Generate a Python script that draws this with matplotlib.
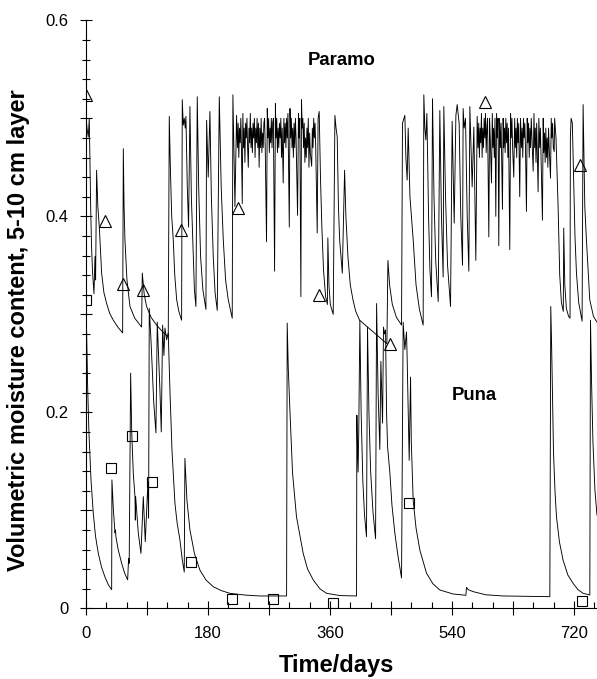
import matplotlib
matplotlib.use("Agg")
import matplotlib.pyplot as plt
from matplotlib.ticker import MultipleLocator, FuncFormatter

plt.rcParams['font.family'] = ['Liberation Sans', 'DejaVu Sans']

# simulated 5-10 cm moisture, Paramo site (day, value)
para_days = [0, 1.5, 3.4, 4.9, 5.8, 6.9, 8.2, 9.8, 11.8, 13.3, 14.2, 15.7, 17.5, 19.7, 23.1, 26.5,
             30.5, 35, 40.3, 47, 54.1, 55.1, 56.2, 57.5, 60.5, 64.9, 72, 82.1, 83.1, 86, 89.5, 96,
             104.2, 112, 121.4, 122.9, 124.5, 126.5, 128.8, 131, 133.8, 137, 141.1, 142.1, 143.5,
             145, 146.5, 147.5, 149.5, 151.4, 153.4, 155.5, 158.3, 160, 162.2, 164.2, 166.3, 169.1,
             172.5, 177, 178, 180.4, 182.9, 185, 187.8, 190.5, 193.7, 196.7, 199.5, 202.6, 206,
             209.9, 215.8, 216.8, 219.8,
             222.2, 223.5, 224.5, 225.5, 226.5, 227.5, 228.5, 229.5, 230.6, 231.5, 232.5, 233.5,
             234.5, 235.5, 236.5, 237.5, 238.5, 239.5, 240.5, 241.5, 242.5, 243.5, 244.5, 245.5,
             246.5, 247.5, 248.5, 249.5, 250.5, 251.5, 252.5, 253.5, 254.5, 255.5, 256.5, 257.5,
             258.5, 259.5, 260.5, 261.5, 262.5, 263.5, 264.5, 266.4, 267.5, 268.5, 269.5, 270.5,
             271.5, 272.5, 273.5, 274.5, 275.5, 276.5, 278.3, 279.5, 280.5, 281.5, 282.5, 283.5,
             284.5, 285.5, 286.5, 287.5, 288.5, 289.5, 291, 292, 293, 294, 295, 296, 297, 298, 300,
             301, 302, 303, 304, 305, 306, 307, 308, 309, 310, 312.2, 313.5, 314.5, 315.5, 317.1,
             318, 319, 320, 321, 322, 323, 324, 325, 326, 327, 328, 329, 330, 331, 333, 334, 335,
             336, 337, 338, 339, 341.2, 342.5, 344.1,
             346, 348, 350.5, 353.6, 356.2, 356.9, 358.5, 360.5, 364.8, 367.3, 369, 370.7, 372.5,
             374.3, 378.2, 381.6, 383.5, 386.5, 390, 393.9, 398, 403.7, 444, 445.5, 448, 452, 458,
             465.6, 467, 470.5, 472, 473.9, 475.4, 478, 482.8, 487, 492, 497.5, 498.5, 500, 501.5,
             503, 505.5, 507.5, 509.8, 511.3, 513.5, 516, 519.7, 522.1, 524.5, 527, 528, 530.5,
             533.5, 537.9, 540.3, 543.3, 545.8, 547.7, 550.6, 553, 555.6, 556.5, 558, 560, 562.5,
             564.9, 566.4, 569.8, 572.3, 575.2,
             577.2, 578.5, 579.5, 580.5, 581.5, 582.5, 583.5, 584.5, 585.5, 586.5, 587.5, 588.5,
             589.5, 590.5, 591.5, 592.5, 594.4, 595.5, 596.5, 598.3, 599.5, 600.5, 601.5, 602.5,
             603.5, 604.7, 605.8, 607, 608, 609.1, 610.2, 611.5, 612.5, 614.5, 615.5, 616.5, 617.5,
             618.5, 619.5, 620.5, 621.5, 622.5, 623.5, 625.3, 626.5, 627.5, 628.5, 629.5, 631.2,
             632.5, 633.5, 634.5, 635.5, 636.5, 637.5, 638.5, 640, 641.2, 642.5, 643.5, 644.5,
             645.5, 646.5, 647.5, 648.5, 649.9, 651, 652, 653, 654, 655, 656, 657, 658, 659.8, 661,
             662, 663, 664, 665, 667.1, 668.2, 669.5, 670.5, 671.5, 673.5, 674.6, 675.5, 676.5,
             677.5, 678.5, 679.5, 680.5, 681.5, 682.5, 683.5, 685.4, 686.5, 687.5, 688.5, 689.5,
             690.8, 691.5,
             693.5, 696.6, 699, 701.5, 704.3, 704.9, 706.5, 708.8, 712, 714.2, 714.7, 715.8, 717.6,
             719.5, 721.5, 723.7, 727, 732, 733.5, 736, 738.4, 743.3, 748.7, 754]
para_vals = [0.503, 0.49, 0.481, 0.50, 0.46, 0.41, 0.37, 0.342, 0.321, 0.359, 0.335, 0.447, 0.41,
             0.389, 0.342, 0.322, 0.311, 0.301, 0.294, 0.287, 0.281, 0.469, 0.41, 0.376, 0.335,
             0.308, 0.296, 0.287, 0.342, 0.32, 0.308, 0.297, 0.289, 0.283, 0.277, 0.502, 0.45, 0.40,
             0.376, 0.34, 0.315, 0.303, 0.294, 0.519, 0.493, 0.50, 0.49, 0.502, 0.43, 0.389, 0.512,
             0.42, 0.359, 0.325, 0.308, 0.522, 0.43, 0.359, 0.325, 0.305, 0.498, 0.44, 0.507, 0.42,
             0.359, 0.322, 0.304, 0.522, 0.43, 0.376, 0.335, 0.315, 0.296, 0.524, 0.41,
             0.503, 0.47, 0.495, 0.46, 0.49, 0.475, 0.50, 0.465, 0.413, 0.505, 0.47, 0.49, 0.455,
             0.495, 0.48, 0.50, 0.47, 0.45, 0.49, 0.475, 0.505, 0.47, 0.49, 0.465, 0.495, 0.48,
             0.50, 0.46, 0.49, 0.475, 0.50, 0.47, 0.495, 0.45, 0.49, 0.47, 0.50, 0.465, 0.485,
             0.47, 0.495, 0.50, 0.47, 0.374, 0.51, 0.48, 0.50, 0.465, 0.49, 0.475, 0.50, 0.47,
             0.495, 0.50, 0.344, 0.515, 0.48, 0.50, 0.465, 0.49, 0.47, 0.495, 0.48, 0.50, 0.46,
             0.49, 0.434, 0.50, 0.475, 0.495, 0.47, 0.50, 0.48, 0.505, 0.389, 0.51, 0.48, 0.50,
             0.47, 0.49, 0.46, 0.495, 0.47, 0.50, 0.48, 0.401, 0.505, 0.48, 0.50, 0.318, 0.519,
             0.49, 0.50, 0.47, 0.495, 0.455, 0.48, 0.46, 0.49, 0.47, 0.50, 0.45, 0.485, 0.465,
             0.451, 0.49, 0.47, 0.50, 0.48, 0.495, 0.47, 0.383, 0.50, 0.507,
             0.44, 0.39, 0.345, 0.318, 0.31, 0.378, 0.33, 0.31, 0.30, 0.503, 0.49, 0.481, 0.41,
             0.376, 0.342, 0.447, 0.40, 0.359, 0.33, 0.315, 0.303, 0.294, 0.27, 0.355, 0.33, 0.31,
             0.297, 0.289, 0.495, 0.503, 0.46, 0.437, 0.49, 0.42, 0.376, 0.33, 0.305, 0.289, 0.524,
             0.49, 0.478, 0.505, 0.40, 0.345, 0.318, 0.52, 0.42, 0.355, 0.313, 0.508, 0.40, 0.338,
             0.512, 0.42, 0.35, 0.308, 0.497, 0.393, 0.503, 0.514, 0.495, 0.40, 0.35, 0.51, 0.49,
             0.50, 0.40, 0.344, 0.512, 0.43, 0.491, 0.355,
             0.502, 0.47, 0.495, 0.46, 0.49, 0.475, 0.505, 0.46, 0.49, 0.47, 0.50, 0.48, 0.505,
             0.465, 0.49, 0.50, 0.379, 0.50, 0.48, 0.434, 0.505, 0.47, 0.49, 0.46, 0.50, 0.40,
             0.505, 0.48, 0.50, 0.37, 0.50, 0.47, 0.495, 0.407, 0.50, 0.47, 0.49, 0.465, 0.50,
             0.475, 0.495, 0.46, 0.49, 0.366, 0.505, 0.48, 0.50, 0.47, 0.44, 0.50, 0.47, 0.49,
             0.46, 0.50, 0.475, 0.495, 0.42, 0.50, 0.47, 0.49, 0.46, 0.50, 0.48, 0.495, 0.47,
             0.405, 0.50, 0.475, 0.495, 0.46, 0.49, 0.47, 0.50, 0.48, 0.446, 0.505, 0.47, 0.49,
             0.455, 0.495, 0.425, 0.50, 0.47, 0.49, 0.46, 0.396, 0.50, 0.465, 0.485, 0.455, 0.49,
             0.46, 0.48, 0.45, 0.49, 0.47, 0.439, 0.50, 0.48, 0.495, 0.47, 0.466, 0.50,
             0.48, 0.41, 0.34, 0.312, 0.303, 0.388, 0.33, 0.306, 0.298, 0.296, 0.48, 0.50, 0.495,
             0.44, 0.38, 0.342, 0.312, 0.293, 0.514, 0.41, 0.376, 0.315, 0.298, 0.292]

# simulated 5-10 cm moisture, Puna site (day, value)
puna_days = [0, 1.0, 2.5, 4.4, 7.5, 10.8, 14, 18.2, 23, 28, 33, 37.9, 38.3, 40.5, 42.8, 43.5, 44.2,
             47.5, 52.6, 57, 61.5, 62.9, 63.8, 65.9, 67.5, 69.8, 72.3, 72.8, 73.3, 77.2, 81.1, 84.6,
             87.5, 91.4, 92.4, 93.4, 95.9, 100, 103.2, 105.2, 109.1, 111.1, 113.1, 115, 116.5, 119,
             121.4, 124, 127, 131.3, 134.5, 138.6, 142, 145, 146, 149, 153.4, 160, 168.1, 177,
             187.8, 200, 212.4, 235, 256.6, 296, 296.9, 298.5, 300.9, 304.8, 310.6, 320.5, 327,
             335.3, 345, 355, 375, 399.2, 399.7, 400.6, 401.5, 402.5, 404.1, 406, 408.5, 411,
             413.9, 415.4, 417.5, 420, 423.5, 427.3, 428.8, 431, 433.6, 435.1, 437.6, 439, 440.5,
             442, 443.5, 445, 448.4, 451.5, 455.8, 460, 465.6, 468, 470.5, 472.9, 473.8, 475.5,
             476.9, 478.9, 480, 482.8, 487, 492.6, 502.5, 512, 522.1, 541.8, 560.5, 561.5, 564,
             571.3, 590, 615.5, 684.4, 685.8, 687, 688.3, 689.8, 692, 694.2, 698.5, 704, 711,
             718.7, 726, 733.5, 743.4, 744.4, 746, 748, 751, 754]
puna_vals = [0.31, 0.281, 0.225, 0.179, 0.13, 0.097, 0.074, 0.056, 0.042, 0.032, 0.024, 0.019,
             0.131, 0.10, 0.077, 0.08, 0.073, 0.06, 0.046, 0.036, 0.029, 0.051, 0.046, 0.24, 0.18,
             0.138, 0.114, 0.09, 0.114, 0.077, 0.056, 0.114, 0.068, 0.129, 0.092, 0.306, 0.274,
             0.21, 0.179, 0.292, 0.223, 0.18, 0.289, 0.258, 0.286, 0.274, 0.281, 0.22, 0.16,
             0.107, 0.087, 0.07, 0.05, 0.037, 0.153, 0.11, 0.08, 0.056, 0.039, 0.029, 0.022,
             0.018, 0.0153, 0.0135, 0.0126, 0.0126, 0.291, 0.245, 0.202, 0.138, 0.0935, 0.056,
             0.04, 0.029, 0.02, 0.0153, 0.013, 0.0126, 0.197, 0.16, 0.139, 0.18, 0.294, 0.2,
             0.13, 0.095, 0.073, 0.287, 0.2, 0.14, 0.098, 0.071, 0.311, 0.22, 0.162, 0.252,
             0.189, 0.287, 0.28, 0.284, 0.2, 0.165, 0.138, 0.105, 0.0765, 0.055, 0.031, 0.292,
             0.264, 0.282, 0.258, 0.2, 0.151, 0.236, 0.17, 0.11, 0.082, 0.0595, 0.0357, 0.025,
             0.0187, 0.0146, 0.0133, 0.0214, 0.019, 0.017, 0.0138, 0.0126, 0.0119, 0.308, 0.27,
             0.22, 0.16, 0.12, 0.0935, 0.068, 0.049, 0.034, 0.0255, 0.019, 0.0153, 0.0136, 0.294,
             0.23, 0.17, 0.12, 0.095]

# measured values
para_obs_days = [0, 28, 55.1, 83.6, 140.1, 223.7, 343.7, 448.4, 588.5, 728.6]
para_obs_vals = [0.524, 0.395, 0.331, 0.325, 0.386, 0.408, 0.32, 0.27, 0.517, 0.452]
puna_obs_days = [0, 36.9, 67.4, 96.9, 154.9, 215.8, 275.3, 363.8, 476.4, 732]
puna_obs_vals = [0.315, 0.143, 0.176, 0.129, 0.0476, 0.0095, 0.0095, 0.0057, 0.107, 0.0074]

fig = plt.figure(figsize=(5.97, 6.79), dpi=100)
ax = fig.add_axes([0.144, 0.1041, 0.856, 0.866])

ax.plot(para_days, para_vals, color='black', lw=0.65)
ax.plot(puna_days, puna_vals, color='black', lw=0.65)
ax.plot(para_obs_days, para_obs_vals, ls='none', marker='^', ms=8, mfc='none', mec='black', mew=0.8)
ax.plot(puna_obs_days, puna_obs_vals, ls='none', marker='s', ms=7.5, mfc='none', mec='black', mew=0.8)

ax.text(377.6, 0.559, 'Paramo', fontsize=13.3, fontweight='bold', ha='center', va='center')
ax.text(572.3, 0.217, 'Puna', fontsize=13.3, fontweight='bold', ha='center', va='center')

ax.set_xlim(0, 754)
ax.set_ylim(0, 0.6)
for s in ['top', 'right']:
    ax.spines[s].set_visible(False)
for s in ['left', 'bottom']:
    ax.spines[s].set_linewidth(0.8)

ax.xaxis.set_major_locator(MultipleLocator(90))
ax.xaxis.set_minor_locator(MultipleLocator(30))
ax.xaxis.set_major_formatter(FuncFormatter(lambda v, p: '%d' % v if round(v) % 180 == 0 else ''))
ax.yaxis.set_major_locator(MultipleLocator(0.1))
ax.yaxis.set_minor_locator(MultipleLocator(0.02))
ax.yaxis.set_major_formatter(FuncFormatter(
    lambda v, p: ('0' if abs(v) < 1e-9 else '%g' % round(v, 1)) if round(v * 10) % 2 == 0 else ''))

ax.tick_params(axis='x', which='major', direction='inout', length=10, width=0.8, labelsize=12, pad=8)
ax.tick_params(axis='x', which='minor', direction='in', length=4, width=0.8)
ax.tick_params(axis='y', which='major', direction='inout', length=9, width=0.8, labelsize=12, pad=8)
ax.tick_params(axis='y', which='minor', direction='inout', length=6, width=0.8)

ax.set_xlabel('Time/days', fontsize=17, fontweight='bold')
ax.set_ylabel('Volumetric moisture content, 5-10 cm layer', fontsize=17, fontweight='bold')
ax.xaxis.set_label_coords(0.491, -0.097)
ax.xaxis.label.set_va('center')
ax.yaxis.set_label_coords(-0.133, 0.473)
ax.yaxis.label.set_va('center')

fig.savefig('out.png', dpi=100)
